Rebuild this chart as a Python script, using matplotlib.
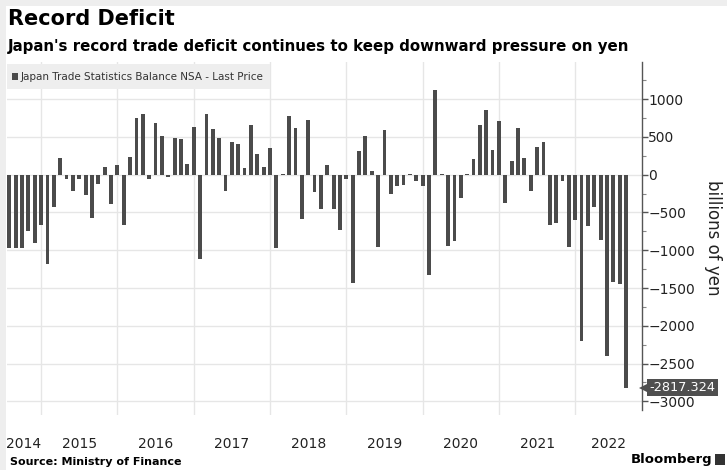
import matplotlib
matplotlib.use("Agg")
import matplotlib.pyplot as plt
import matplotlib.patches as patches
import matplotlib.transforms as mtransforms
import numpy as np

# === Dati: saldo commerciale mensile (miliardi di yen), lug 2014 - ago 2022 ===
start_year, start_month = 2014, 7
values_2014 = [-970, -970, -970, -750, -905, -665]
values_2015 = [-1180, -433, 221, -57, -221, -60, -265, -575, -124, 97, -389, 133]
values_2016 = [-663, 230, 743, 804, -53, 685, 508, -31, 486, 477, 146, 636]
values_2017 = [-1114, 804, 605, 486, -212, 433, 407, 88, 654, 274, 102, 354]
values_2018 = [-973, 3, 774, 619, -583, 720, -230, -451, 124, -451, -738, -53]
values_2019 = [-1428, 318, 517, 53, -964, 588, -252, -155, -133, 10, -88, -155]
values_2020 = [-1326, 1114, 5, -950, -875, -309, 10, 212, 654, 849, 323, 707]
values_2021 = [-376, 177, 619, 221, -221, 367, 429, -663, -641, -80, -964, -597]
values_2022 = [-2201, -685, -433, -862, -2400, -1414, -1445, -2817.324]
years = [2014, 2015, 2016, 2017, 2018, 2019, 2020, 2021, 2022]

values = (values_2014 + values_2015 + values_2016 + values_2017 + values_2018
          + values_2019 + values_2020 + values_2021 + values_2022)
last_value = values[-1]

bar_color = "#4b4b4b"
grid_color = "#e6e6e6"
text_color = "#222222"
label_bg = "#4f4f4f"

# === Figura ===
fig = plt.figure(figsize=(7.27, 4.70), dpi=100)
W, H = 727, 470

def fy(py):
    # pixel dall'alto -> frazione figura
    return 1 - py / H

ax = fig.add_axes([7 / W, fy(415), (642 - 7) / W, (415 - 62) / H])

x = np.arange(len(values))
ax.bar(x, values, width=0.6, color=bar_color, zorder=3)

ax.set_xlim(-0.36, 99.5)
ax.set_ylim(-3180, 1490)

# griglia verticale a fine anno (barra di dicembre)
months = [(start_month - 1 + i) % 12 + 1 for i in range(len(values))]
dec_idx = [i for i, m in enumerate(months) if m == 12]
ax.set_xticks(dec_idx)
ax.set_xticklabels([])
ax.tick_params(axis="x", which="major", length=0)

# etichette anno centrate nella parte visibile di ogni anno
lo, hi = ax.get_xlim()
bounds = [lo] + dec_idx + [hi]
centers = [(bounds[k] + bounds[k + 1]) / 2 for k in range(len(bounds) - 1)]
ax.set_xticks(centers, minor=True)
ax.set_xticklabels([str(y) for y in years], minor=True)
ax.tick_params(axis="x", which="minor", length=0, pad=16, labelsize=10,
               labelcolor=text_color)

# asse y a destra
ax.yaxis.tick_right()
ax.set_yticks(np.arange(-3000, 1001, 500))
ax.set_yticks(np.arange(-3000, 1251, 250), minor=True)
ax.tick_params(axis="y", which="major", length=4, width=1, color="#555555",
               labelsize=10, labelcolor=text_color, pad=0.5)
ax.tick_params(axis="y", which="minor", length=3, width=0.8, color="#888888")

ax.grid(True, which="major", color=grid_color, linewidth=1, zorder=0)
for side in ["left", "top", "bottom"]:
    ax.spines[side].set_visible(False)
ax.spines["right"].set_color("#555555")
ax.spines["right"].set_linewidth(1)
ax.spines["right"].set_bounds(-3120, 1490)

# etichetta ultimo valore (box con punta a sinistra)
blend = mtransforms.blended_transform_factory(ax.transAxes, ax.transData)
ax.plot([1.005], [last_value], marker="<", markersize=9, color=label_bg,
        markeredgewidth=0, transform=blend, clip_on=False, zorder=9)
ax.annotate(f"{last_value:.3f}", xy=(1.0, last_value),
            xycoords=("axes fraction", "data"),
            xytext=(5.5, 0), textcoords="offset points",
            ha="left", va="center", fontsize=9.3, color="white", zorder=10,
            bbox=dict(boxstyle="square,pad=0.18", facecolor=label_bg,
                      edgecolor="none"),
            annotation_clip=False)

# legenda
leg_box = patches.Rectangle((7 / W, fy(89)), (270 - 7) / W, (89 - 64) / H,
                            transform=fig.transFigure, facecolor="#eeeeee",
                            edgecolor="none", zorder=5)
fig.patches.append(leg_box)
fig.patches.append(patches.Rectangle((12 / W, fy(80)), 6 / W, 7 / H,
                                     transform=fig.transFigure,
                                     facecolor=bar_color, zorder=6))
fig.text(21 / W, fy(76.5), "Japan Trade Statistics Balance NSA - Last Price",
         fontsize=7.5, color="#333333", va="center", ha="left", zorder=7)

# cornice grigia (screenshot)
fig.patches.append(patches.Rectangle((0, fy(6)), 1, 6 / H,
                                     transform=fig.transFigure,
                                     facecolor="#eeeeee", edgecolor="none"))
fig.patches.append(patches.Rectangle((0, 0), 6 / W, 1,
                                     transform=fig.transFigure,
                                     facecolor="#eeeeee", edgecolor="none"))

# titoli
fig.text(8 / W, fy(19), "Record Deficit", fontsize=15, fontweight="bold",
         color="black", va="center", ha="left")
fig.text(8 / W, fy(46), "Japan's record trade deficit continues to keep downward pressure on yen",
         fontsize=10.8, fontweight="bold", color="black", va="center", ha="left")

# etichetta asse y
fig.text(713 / W, fy(238), "billions of yen", rotation=270, fontsize=12,
         color=text_color, va="center", ha="center")

# fonte e marchio
fig.text(10 / W, fy(462), "Source: Ministry of Finance", fontsize=8,
         fontweight="bold", color="black", va="center", ha="left")
fig.text(712 / W, fy(459), "Bloomberg", fontsize=9.5, fontweight="bold",
         color="black", va="center", ha="right")
fig.patches.append(patches.Rectangle((715 / W, fy(465)), 10 / W, 11 / H,
                                     transform=fig.transFigure,
                                     facecolor="#333333", edgecolor="none"))

fig.savefig("out.png", dpi=100)
